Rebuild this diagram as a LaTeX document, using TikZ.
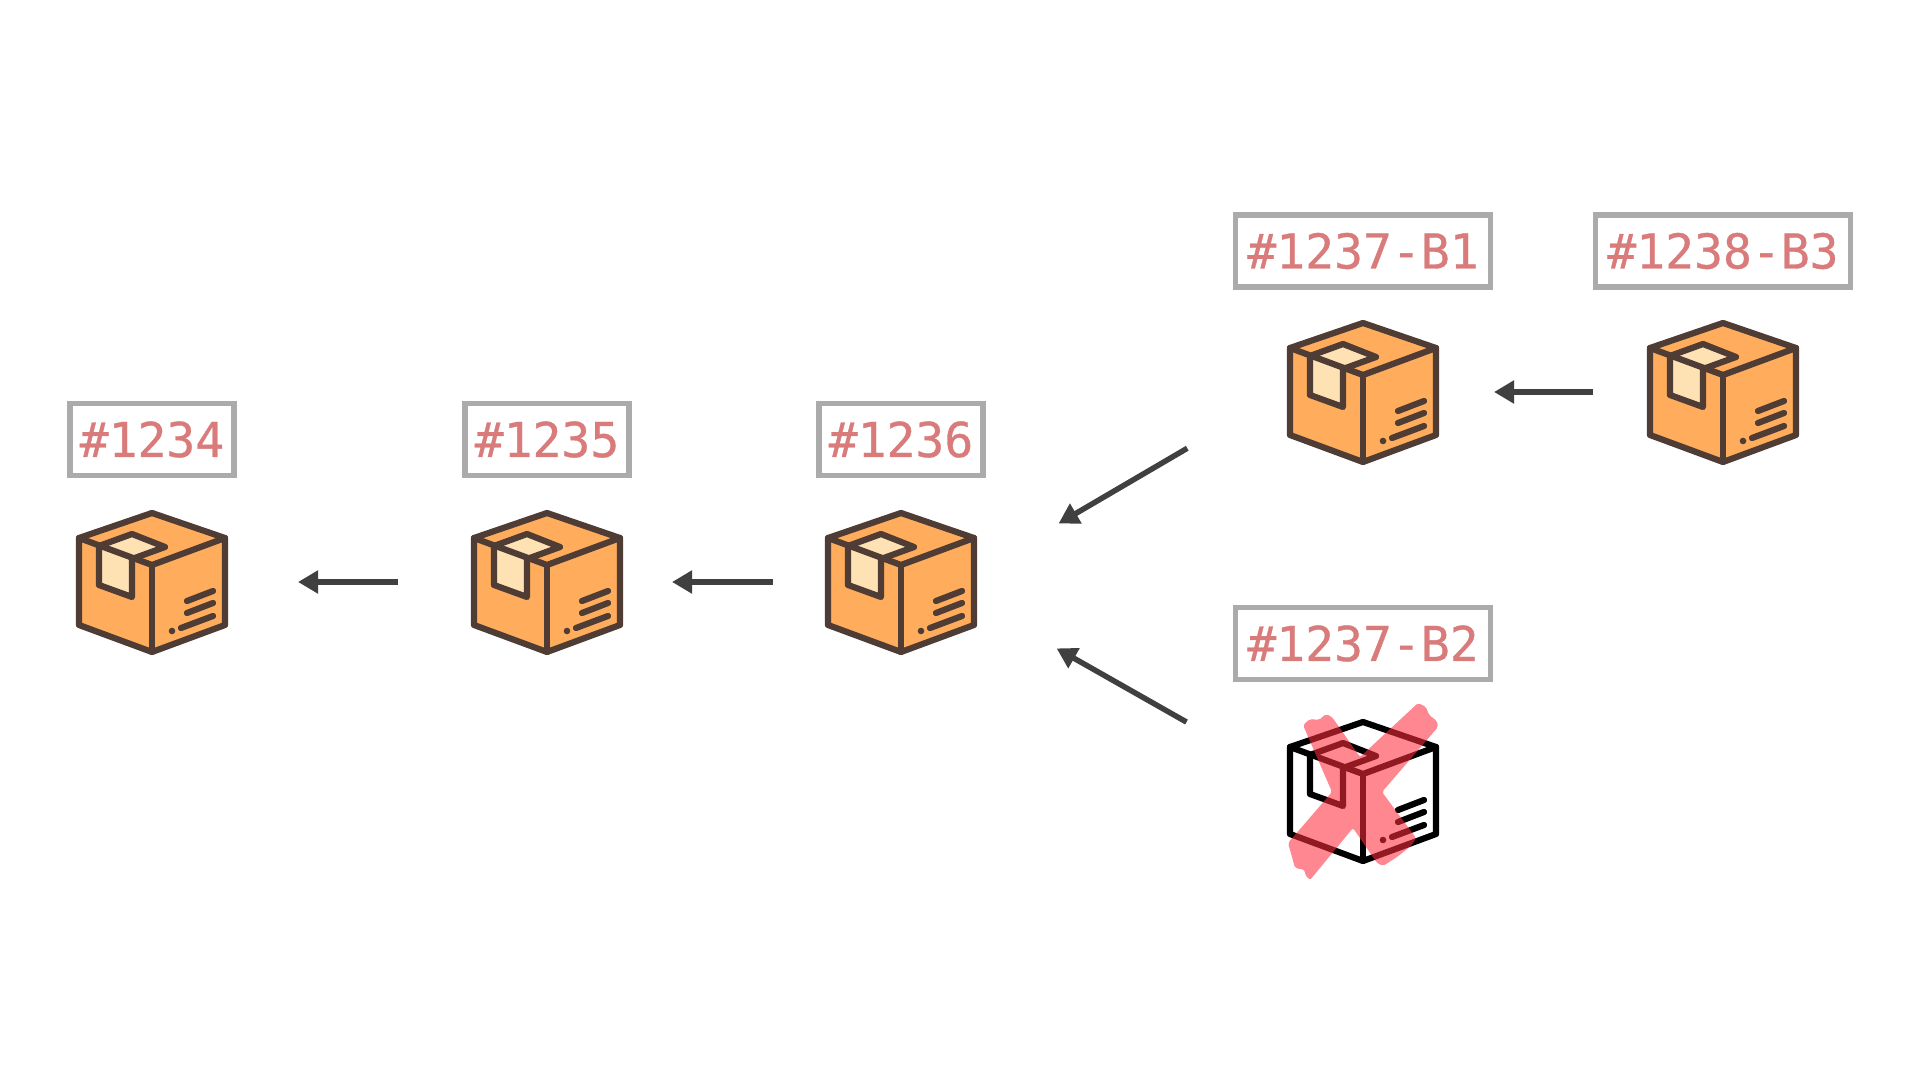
\documentclass[tikz,border=0pt]{standalone}
\usepackage{xcolor}
\usepackage{fontspec}
\usepackage{tikz}
\usetikzlibrary{positioning,arrows.meta}
\newfontfamily\tagfont[FakeBold=0.7]{DejaVu Sans Mono}
\definecolor{cartonline}{HTML}{4F3D35}
\definecolor{cartonbody}{HTML}{FFAD5C}
\definecolor{cartontape}{HTML}{FFE2B4}
\definecolor{tagtext}{HTML}{D97B7B}
\definecolor{tagline}{HTML}{ABABAB}
\definecolor{arrowline}{HTML}{404040}
\definecolor{crossred}{HTML}{FF2C3D}
\tikzset{
  pics/carton/.style n args={3}{code={
    \begin{scope}[yscale=-1,draw=#1,line width=6.2pt,line join=round,line cap=round]
      \filldraw[fill=#2] (0,-69) -- (73,-44) -- (73,43) -- (0,70) -- (-73,43) -- (-73,-44) -- cycle;
      \filldraw[fill=#3] (-53,-36) -- (-20,-48) -- (13,-35) -- (-20,-23) -- (-20,15) -- (-53,3) -- cycle;
      \draw (-73,-44) -- (0,-17) -- (73,-44);
      \draw (0,-17) -- (0,70);
      \draw (35,19) -- (61,9);
      \draw (35,31) -- (61,21);
      \draw (29,46) -- (61,34);
      \fill[#1] (20,49) circle (3.3);
    \end{scope}
  }}
}
\begin{document}
\begin{tikzpicture}[x=1pt,y=1pt,on grid,node distance=100pt]
  \tikzstyle{every node}=[font=\tagfont\fontsize{48}{48}\selectfont]
  \tikzstyle{pkg}=[minimum width=146pt,minimum height=140pt,inner sep=0pt,outer sep=0pt]
  \tikzstyle{tagbox}=[draw=tagline,line width=5.5pt,text=tagtext,minimum height=72pt,minimum width=164pt,inner sep=0pt]
  \tikzstyle{widetag}=[tagbox,minimum width=255pt]
  \tikzstyle{flow}=[draw=arrowline,line width=5.5pt,-{Triangle[length=20pt,width=22pt]}]
  \useasboundingbox (0,0) rectangle (1920,1080);
  \node[pkg] (p1234) at (152,498) {};
  \node[pkg] (p1235) [right=395pt of p1234] {};
  \node[pkg] (p1236) [right=354pt of p1235] {};
  \node[pkg] (p1237a) at (1363,688) {};
  \node[pkg] (p1238) [right=360pt of p1237a] {};
  \node[pkg] (p1237b) at (1363,289) {};
  \path (p1234) pic {carton={cartonline}{cartonbody}{cartontape}};
  \path (p1235) pic {carton={cartonline}{cartonbody}{cartontape}};
  \path (p1236) pic {carton={cartonline}{cartonbody}{cartontape}};
  \path (p1237a) pic {carton={cartonline}{cartonbody}{cartontape}};
  \path (p1238) pic {carton={cartonline}{cartonbody}{cartontape}};
  \path (p1237b) pic {carton={black}{white}{white}};
  \begin{scope}[shift={(p1237b)},yscale=-1]
    \fill[crossred,opacity=.57,rounded corners=2pt] (55,-88) -- (63,-84) -- (66,-76) -- (74,-70) -- (75,-64) -- (19,1) -- (53,47) -- (49,54) -- (34,66) -- (20,75) -- (14,72) -- (-10,37) -- (-53,89) -- (-58,84) -- (-58,79) -- (-68,77) -- (-71,66) -- (-75,52) -- (-31,1) -- (-60,-66) -- (-53,-72) -- (-44,-71) -- (-37,-77) -- (-31,-74) -- (-3,-34) -- cycle;
  \end{scope}
  \node[tagbox] (t1234) [above=142.5pt of p1234] {\#1234};
  \node[tagbox] (t1235) [above=142.5pt of p1235] {\#1235};
  \node[tagbox] (t1236) [above=142.5pt of p1236] {\#1236};
  \node[widetag] (t1237a) [above=141pt of p1237a] {\#1237-B1};
  \node[widetag] (t1238) [above=141pt of p1238] {\#1238-B3};
  \node[widetag] (t1237b) [above=147.5pt of p1237b] {\#1237-B2};
  \draw[flow,shorten <=76pt,shorten >=73pt] (p1235) -- (p1234);
  \draw[flow,shorten <=55pt,shorten >=52pt] (p1236) -- (p1235);
  \draw[flow,shorten <=57pt,shorten >=58pt] (p1238) -- (p1237a);
  \draw[flow,shorten <=119pt,shorten >=98pt] (p1237a.177) -- (p1236.7);
  \draw[flow,shorten <=119pt,shorten >=95pt] (p1237b.172) -- (p1236.-15);
\end{tikzpicture}
\end{document}
